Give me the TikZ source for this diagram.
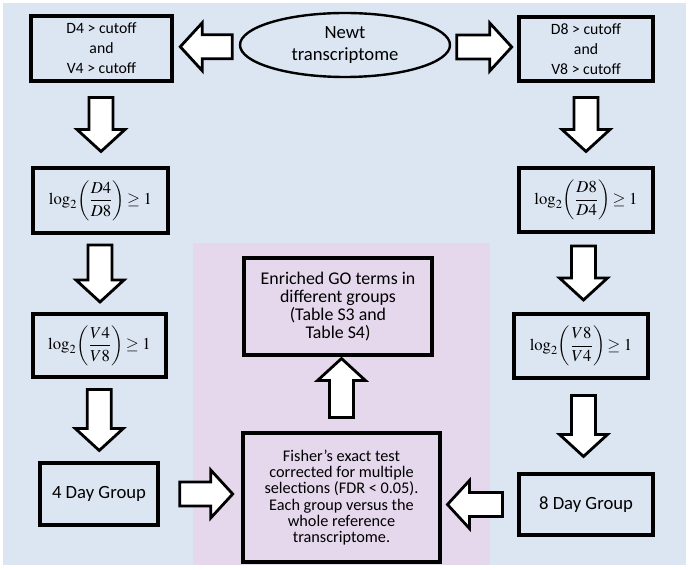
\documentclass[tikz,border=0pt]{standalone}
\usepackage{amsmath}
\usepackage{mathptmx}
\usepackage{fontspec}
\setmainfont{Carlito}
\usetikzlibrary{calc,shapes.geometric}
\definecolor{bgblue}{HTML}{DCE6F2}
\definecolor{bgpink}{HTML}{E5D8EC}
\tikzset{
  box/.style={draw=black, line width=2.6pt, fill=none, align=center, inner sep=2pt},
  arrowline/.style={draw=black, line width=2.1pt, fill=white, line join=miter},
  pics/barrow/.style={code={
    \draw[arrowline] (-#1/2,-12) -- (#1/2-22,-12) -- (#1/2-22,-24) -- (#1/2,0)
      -- (#1/2-22,24) -- (#1/2-22,12) -- (-#1/2,12) -- cycle;}},
  smalltxt/.style={font=\fontsize{11.8}{15}\selectfont},
  midtxt/.style={font=\fontsize{13.4}{13.4}\selectfont},
  bigtxt/.style={font=\fontsize{14}{16}\selectfont},
  fishtxt/.style={font=\fontsize{12.2}{12.2}\selectfont},
  mathtxt/.style={font=\fontsize{12.5}{14}\selectfont},
}
\begin{document}
\begin{tikzpicture}[x=0.75pt,y=-0.75pt]
\useasboundingbox (0,0) rectangle (690,570);
\fill[bgblue] (3,3) rectangle (686,565);
\fill[bgpink] (193,243) rectangle (490,565);

% nodes
\node[box, smalltxt, minimum width=105.75pt, minimum height=48.75pt] (d4cut) at (101.5,48.5) {D4 > cutoff\\and\\V4 > cutoff};
\node[box, smalltxt, minimum width=100.5pt, minimum height=48pt] (d8cut) at (586,49) {D8 > cutoff\\and\\V8 > cutoff};
\node[draw=black, line width=1.8pt, ellipse, minimum width=157.5pt, minimum height=48pt, align=center, bigtxt, inner sep=0pt] (newt) at (345,45) {Newt\\transcriptome};

\node[box, mathtxt, minimum width=101.25pt, minimum height=48.75pt] (logd4) at (100.5,200.5) {$\log_{2}\!\left(\dfrac{D4}{D8}\right)\!\geq 1$};
\node[box, mathtxt, minimum width=100.5pt, minimum height=48pt] (logd8) at (586,200) {$\log_{2}\!\left(\dfrac{D8}{D4}\right)\!\geq 1$};
\node[box, mathtxt, minimum width=99.75pt, minimum height=47.25pt] (logv4) at (99.5,345.5) {$\log_{2}\!\left(\dfrac{V4}{V8}\right)\!\geq 1$};
\node[box, mathtxt, minimum width=100.5pt, minimum height=48pt] (logv8) at (581,346) {$\log_{2}\!\left(\dfrac{V8}{V4}\right)\!\geq 1$};

\node[box, bigtxt, minimum width=88.5pt, minimum height=46.5pt] (g4) at (99,494) {4 Day Group};
\node[box, bigtxt, minimum width=100.5pt, minimum height=45.75pt] (g8) at (586,504.5) {8 Day Group};

\node[box, fishtxt, minimum width=147.75pt, minimum height=96.75pt] (fisher) at (341.5,497.5) {Fisher’s exact test\\corrected for multiple\\selections (FDR < 0.05).\\Each group versus the\\whole reference\\transcriptome.};
\node[box, midtxt, minimum width=141pt, minimum height=72.75pt] (enriched) at (338,306.5) {Enriched GO terms in\\different groups\\(Table S3 and\\Table S4)};

% block arrows
\pic[rotate=180] at ($(d4cut.east)!0.5!(newt.west)$) {barrow=52};
\pic at ($(newt.east)!0.5!(d8cut.west)$) {barrow=55};

\pic[rotate=-90] at ($(d4cut.south)!0.5!(logd4.north)$) {barrow=54};
\pic[rotate=-90] at ($(logd4.south)!0.5!(logv4.north)$) {barrow=57};
\pic[rotate=-90] at ($(logv4.south)!0.5!(g4.north)$) {barrow=61};

\pic[rotate=-90] at ($(d8cut.south)!0.5!(logd8.north)$) {barrow=54};
\pic[rotate=-90] at ($(logd8.south)!0.5!(logv8.north)$ -| d8cut.south) {barrow=54};
\pic[rotate=-90] at ($(logv8.south)!0.5!(g8.north)$ -| d8cut.south) {barrow=61};

\pic at ($(g4.east)!0.57!(g4.east -| fisher.west)$) {barrow=53};
\pic[rotate=180] at ($(g8.west)!0.56!(g8.west -| fisher.east)$) {barrow=55};
\pic[rotate=90] at ($(fisher.north)!0.58!(fisher.north |- enriched.south)$) {barrow=59};
\end{tikzpicture}
\end{document}
